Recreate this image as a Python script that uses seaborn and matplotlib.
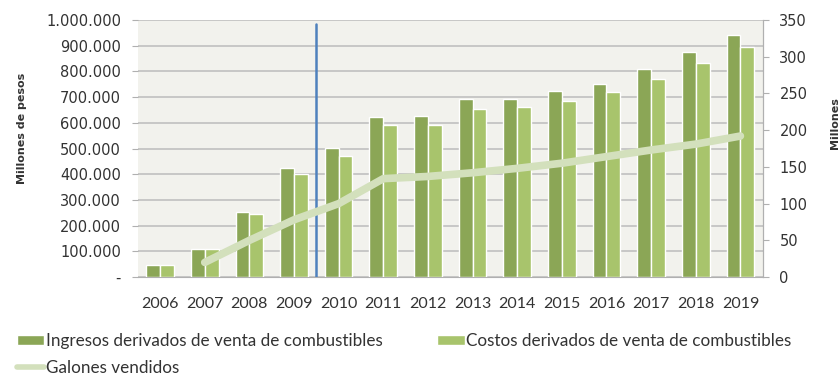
import numpy as np
import pandas as pd
import matplotlib
matplotlib.use("Agg")
import matplotlib.pyplot as plt
import seaborn as sns
from matplotlib.ticker import FuncFormatter, MultipleLocator
from matplotlib.patches import Patch
from matplotlib.lines import Line2D

years = ["2006", "2007", "2008", "2009", "2010", "2011", "2012",
         "2013", "2014", "2015", "2016", "2017", "2018", "2019"]
ingresos = [48000, 109000, 252000, 425000, 501000, 622000, 625000,
            692000, 692000, 724000, 751000, 810000, 877000, 942000]
costos = [47000, 109000, 246000, 400000, 471000, 591000, 592000,
          654000, 661000, 685000, 718000, 769000, 834000, 896000]
galones = [np.nan, 20, 50, 78, 100, 134, 137,
           142, 148, 155, 164, 173, 181, 192]

lbl_ing = "Ingresos derivados de venta de combustibles"
lbl_cos = "Costos derivados de venta de combustibles"
lbl_gal = "Galones vendidos"

c_ing = "#8ba656"
c_cos = "#a8c46c"
c_gal = "#d3e0bc"

df = pd.DataFrame({"year": years * 2,
                   "valor": ingresos + costos,
                   "serie": [lbl_ing] * len(years) + [lbl_cos] * len(years)})
df_line = pd.DataFrame({"pos": range(len(years)), "galones": galones}).dropna()

sns.set_style("white")
plt.rcParams["font.family"] = ["DejaVu Sans"]

fig = plt.figure(figsize=(8.4, 3.76), dpi=100)
ax = fig.add_axes([0.164, 0.263, 0.744, 0.684])
ax.set_facecolor("#f2f2ed")

sns.barplot(data=df, x="year", y="valor", hue="serie", order=years,
            palette=[c_ing, c_cos], width=0.62, saturation=1,
            legend=False, ax=ax, zorder=3)

ax.set_ylim(0, 1000000)
ax.set_xlim(-0.5, len(years) - 0.5)
ax.yaxis.set_major_locator(MultipleLocator(100000))
ax.yaxis.set_major_formatter(FuncFormatter(
    lambda v, p: "-" if v == 0 else f"{int(v):,}".replace(",", ".")))
ax.grid(axis="y", color="#c4c4c4", linewidth=1.3, zorder=0)
ax.set_axisbelow(True)
ax.set_xlabel("")
ax.set_ylabel("Millones de pesos", fontsize=8, fontweight="bold",
              color="#333333", labelpad=14, y=0.58)

ax.set_xticks(np.arange(len(years)))
ax.set_xticklabels(years, family="Lato", fontsize=11.5, color="#333333")
ax.set_xticks(np.arange(len(years) + 1) - 0.5, minor=True)
ax.tick_params(axis="x", which="major", length=0, pad=14)
ax.tick_params(axis="x", which="minor", length=5, color="#b0b0b0", direction="out")
ax.tick_params(axis="y", length=4, color="#b0b0b0", labelsize=10.5,
               labelcolor="#333333", pad=8)

for s in ["top", "left"]:
    ax.spines[s].set_visible(False)
ax.spines["bottom"].set_color("#b0b0b0")
ax.spines["right"].set_color("#b0b0b0")

ax.axvline(3.5, ymin=0, ymax=0.985, color="#4f81bd", linewidth=1.8, zorder=5)

ax2 = ax.twinx()
sns.lineplot(data=df_line, x="pos", y="galones", color=c_gal, linewidth=5.5,
             solid_capstyle="round", solid_joinstyle="round", ax=ax2, zorder=6)
ax2.set_ylim(0, 350)
ax2.yaxis.set_major_locator(MultipleLocator(50))
ax2.set_xlim(-0.5, len(years) - 0.5)
ax2.set_xlabel("")
ax2.set_ylabel("Millones", fontsize=8, fontweight="bold", color="#333333",
               labelpad=16, y=0.6)
ax2.tick_params(axis="y", length=4, color="#b0b0b0", labelsize=10.5,
                labelcolor="#333333", pad=8)
for s in ["top", "left", "bottom"]:
    ax2.spines[s].set_visible(False)
ax2.spines["right"].set_color("#b0b0b0")

handles = [Patch(facecolor=c_ing, label=lbl_ing),
           Line2D([], [], color=c_gal, linewidth=4, label=lbl_gal),
           Patch(facecolor=c_cos, label=lbl_cos)]
fig.legend(handles=handles, loc="lower left", bbox_to_anchor=(0.016, -0.008),
           ncol=2, frameon=False, prop={"family": "Lato", "size": 12.3},
           handlelength=1.6, handleheight=0.5, handletextpad=0.1,
           columnspacing=3.2, labelspacing=0.6, labelcolor="#333333",
           borderpad=0.2, borderaxespad=0)

fig.savefig("out.png", dpi=100)
